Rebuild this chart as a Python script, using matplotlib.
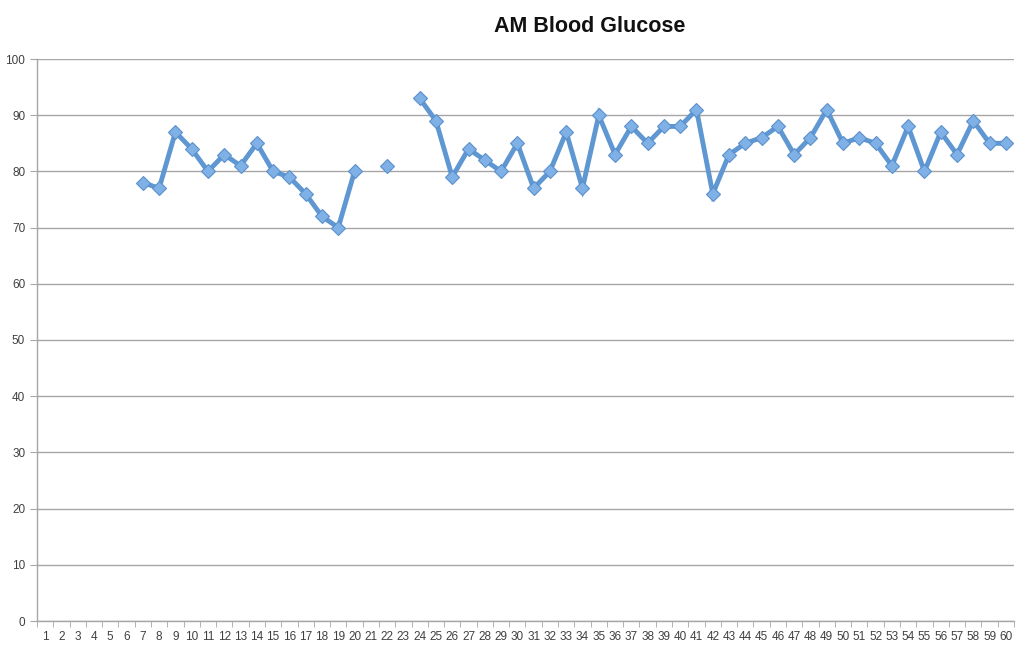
import numpy as np
import matplotlib
matplotlib.use('Agg')
import matplotlib.pyplot as plt

# day numbers and AM readings (nan = no reading)
days = list(range(1, 61))
glucose = [np.nan] * 6 + [
    78, 77, 87, 84, 80, 83, 81, 85, 80, 79, 76, 72, 70, 80,
    np.nan, 81, np.nan,
    93, 89, 79, 84, 82, 80, 85, 77, 80, 87, 77, 90, 83, 88, 85, 88, 88, 91,
    76, 83, 85, 86, 88, 83, 86, 91, 85, 86, 85, 81, 88, 80, 87, 83, 89, 85, 85,
]
y_ticks = list(range(0, 101, 10))

plt.rcParams['font.family'] = ['Liberation Sans', 'DejaVu Sans']

fig = plt.figure(figsize=(10.24, 6.52), dpi=100)
ax = fig.add_axes([37 / 1024, 31 / 652, 977 / 1024, 562 / 652])

grid_c = '#a6a6a6'
ax.set_ylim(0, 100)
ax.set_xlim(0.5, 60.5)
ax.set_yticks(y_ticks)
ax.grid(axis='y', color=grid_c, linewidth=1)
ax.set_axisbelow(True)

ax.plot(days, glucose, color='#5f97d3', linewidth=3.5, marker='D',
        markersize=7.5, markerfacecolor='#7fb0e6', markeredgecolor='#5a90cc',
        markeredgewidth=0.8, solid_joinstyle='miter', zorder=3)

ax.set_xticks(days)
ax.set_xticklabels([str(d) for d in days])
ax.set_xticks(np.arange(0.5, 61, 1), minor=True)
ax.tick_params(axis='x', which='major', length=0, labelsize=8.5,
               labelcolor='#404040', pad=7)
ax.tick_params(axis='x', which='minor', length=4, color=grid_c, direction='out')
ax.tick_params(axis='y', length=5, color=grid_c, labelsize=8.5,
               labelcolor='#404040', pad=3.5)

for s in ['top', 'right']:
    ax.spines[s].set_visible(False)
for s in ['left', 'bottom']:
    ax.spines[s].set_color(grid_c)
    ax.spines[s].set_linewidth(1)

fig.text(590 / 1024, 1 - 27 / 652, 'AM Blood Glucose', ha='center', va='center',
         fontsize=15.5, fontweight='bold', color='#111111')

fig.savefig('out.png', dpi=100, facecolor='white')
